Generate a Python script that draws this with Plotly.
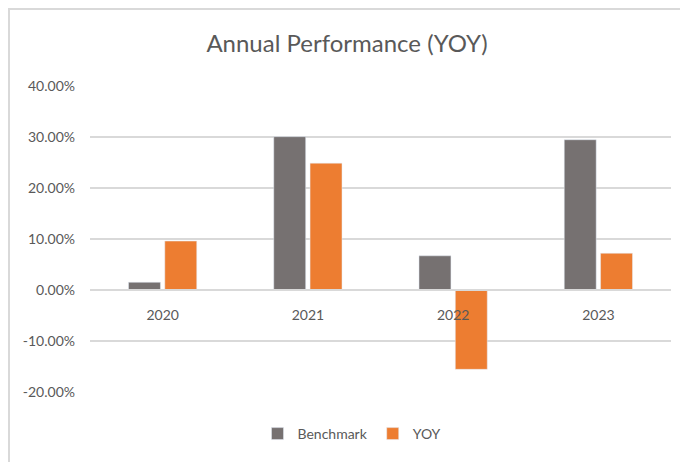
import plotly.graph_objects as go

years = ["2020", "2021", "2022", "2023"]
benchmark = [0.015, 0.301, 0.067, 0.295]
yoy = [0.096, 0.249, -0.156, 0.072]
y_tickvals = [-0.2, -0.1, 0.0, 0.1, 0.2, 0.3, 0.4]
y_ticktext = ["-20.00%", "-10.00%", "0.00%", "10.00%", "20.00%", "30.00%", "40.00%"]

FONT = "Lato, 'Open Sans', sans-serif"
TXT = "#595959"
GRID = "#d9d9d9"

# page body has an 8px default margin, so the figure is offset by 8px
OFF = 8
W, H = 688 - OFF, 462 - OFF
L, T = 90 - OFF, 86 - OFF
R, B = W - (671 - OFF), H - (392 - OFF)
pw, ph = W - L - R, H - T - B

Y0, Y1 = -0.2005, 0.4005

fig = go.Figure()
fig.add_trace(go.Bar(name="Benchmark", x=years, y=benchmark, marker_color="#767171"))
fig.add_trace(go.Bar(name="YOY", x=years, y=yoy, marker_color="#ED7D31"))

fig.update_layout(
    width=W, height=H,
    margin=dict(l=L, r=R, t=T, b=B, pad=0, autoexpand=False),
    paper_bgcolor="white", plot_bgcolor="white",
    barmode="group", bargap=0.5, bargroupgap=0.12,
    font=dict(family=FONT, color=TXT, size=14),
    title=dict(text="Annual Performance (YOY)", x=(347 - OFF) / W, xanchor="center",
               y=1 - (44 - OFF) / H, yanchor="middle",
               font=dict(family=FONT, size=24, color=TXT)),
    showlegend=True,
    legend=dict(orientation="h", x=(352 - OFF - L) / pw, xanchor="center",
                y=-(434 - 392) / ph, yanchor="middle",
                font=dict(family=FONT, size=14, color=TXT),
                itemwidth=30, traceorder="normal"),
    xaxis=dict(type="category", anchor="free", position=(0 - Y0) / (Y1 - Y0),
               showline=True, linecolor=GRID, linewidth=1.5,
               showgrid=False, ticks="", ticklabelstandoff=13, automargin=False,
               tickfont=dict(family=FONT, size=14, color=TXT)),
    yaxis=dict(range=[Y0, Y1], tickvals=y_tickvals, ticktext=y_ticktext,
               showgrid=True, gridcolor=GRID, gridwidth=1.5, automargin=False,
               zeroline=False, showline=False, ticks="", ticklabelstandoff=14,
               tickfont=dict(family=FONT, size=14, color=TXT)),
    shapes=[dict(type="rect", xref="paper", yref="paper",
                 x0=(1 - L) / pw, x1=(W + 20 - L) / pw,
                 y0=-(H + 20 - T - ph) / ph, y1=(T + ph - 1) / ph,
                 line=dict(color=GRID, width=2), layer="below")],
)

fig.write_html("out.html")
